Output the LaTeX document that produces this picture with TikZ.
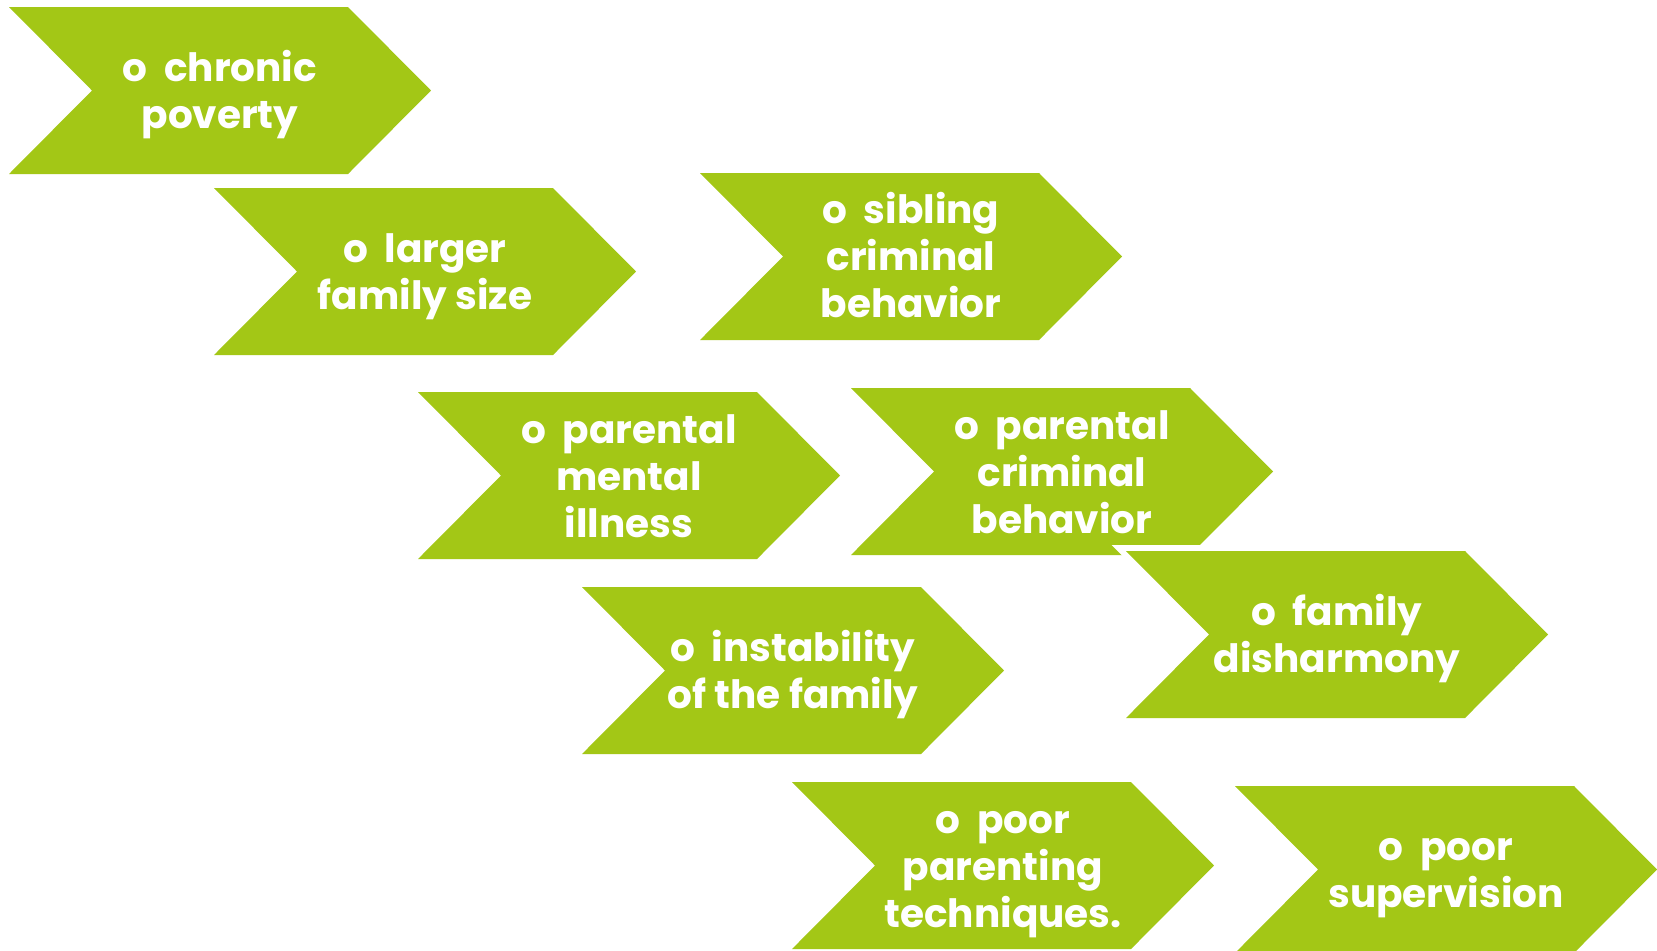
\documentclass[tikz,border=0pt]{standalone}
\usepackage{fontspec}
\setsansfont{Poppins}
\definecolor{chevgreen}{RGB}{163,199,22}
% bullet mark that opens every label
\newcommand\bulo{o\hspace{0.42em}}
% One chevron: left edge #1, top edge #2, node name #3, text #4,
% vertical nudge of the text #5.
% A white miter-joined outline sits beneath the green fill so that
% a later chevron cuts a thin white gap into an earlier one.
\newcommand\chevronbox[5]{%
  \path[chevedge] (#1,#2) -- ++(339,0) -- ++(83,83.5) -- ++(-83,83.5)
    -- ++(-339,0) -- ++(83,-83.5) -- cycle;
  \path[chevfill] (#1,#2) -- ++(339,0) -- ++(83,83.5) -- ++(-83,83.5)
    -- ++(-339,0) -- ++(83,-83.5) -- cycle;
  \node[chevlabel] (#3) at ({#1+211},{#2+84+#5}) {#4};
}
\begin{document}
\begin{tikzpicture}[x=0.5pt,y=-0.5pt,
  chevfill/.style={fill=chevgreen},
  chevedge/.style={draw=white,line width=6pt,line join=miter,miter limit=10},
  chevlabel/.style={text=white,inner sep=0pt,align=center,
    font=\fontsize{19.5}{23.5}\selectfont\sffamily\bfseries}]
\useasboundingbox (0,0) rectangle (1657,950);
\clip (0,0) rectangle (1657,950);
% left-hand cascade
\chevronbox{9}{7}{poverty}{\bulo chronic\\poverty}{4}
\chevronbox{214}{188}{familysize}{\bulo larger\\family size}{5}
\chevronbox{418}{392}{mental}{\bulo parental\\mental\\illness}{0}
\chevronbox{582}{587}{instability}{\bulo instability\\of the family}{4}
\chevronbox{792}{782}{parenting}{\bulo poor\\parenting\\techniques.}{9}
% right-hand cascade
\chevronbox{700}{173}{sibling}{\bulo sibling\\criminal\\behavior}{-2}
\chevronbox{851}{388}{parentcrime}{\bulo parental\\criminal\\behavior}{0}
\chevronbox{1126}{551}{disharmony}{\bulo family\\disharmony}{4}
\chevronbox{1235}{786}{supervision}{\bulo poor\\supervision}{8}
\end{tikzpicture}
\end{document}
